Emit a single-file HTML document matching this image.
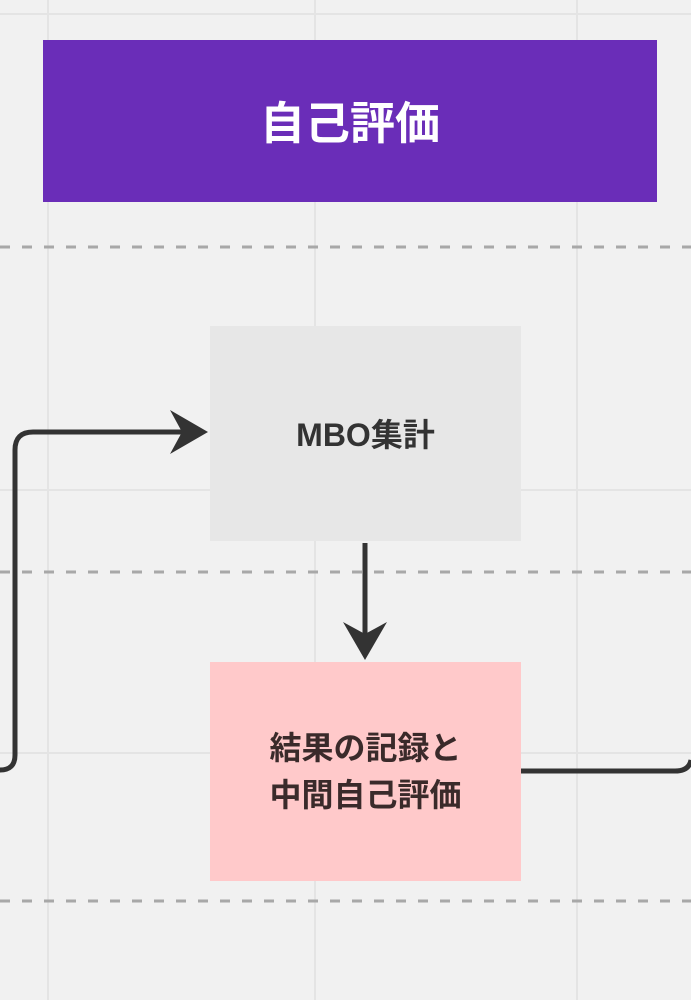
<!DOCTYPE html>
<html><head><meta charset="utf-8"><style>
body{margin:0;width:691px;height:1000px;background:#f1f1f1;position:relative;overflow:hidden;font-family:"Liberation Sans","Noto Sans CJK JP",sans-serif;}
.b{position:absolute;display:flex;align-items:center;justify-content:center;text-align:center;font-weight:bold;}
</style></head><body>
<svg width="691" height="1000" style="position:absolute;left:0;top:0">
<g stroke="#e4e4e4" stroke-width="2">
<line x1="48" y1="0" x2="48" y2="1000"/><line x1="315" y1="0" x2="315" y2="1000"/><line x1="577" y1="0" x2="577" y2="1000"/>
<line x1="0" y1="490" x2="691" y2="490"/><line x1="0" y1="753" x2="691" y2="753"/><line x1="0" y1="14" x2="691" y2="14"/>
</g>
<g stroke="#a8a8a8" stroke-width="3" stroke-dasharray="10 12">
<line x1="0" y1="247" x2="691" y2="247"/><line x1="0" y1="572" x2="691" y2="572"/><line x1="0" y1="901" x2="691" y2="901"/>
</g>
</svg>
<div class="b" style="left:43px;top:40px;width:614px;height:162px;background:#6a2db8;color:#fff;font-size:45px;padding-bottom:4px;box-sizing:border-box;">自己評価</div>
<div class="b" style="left:210px;top:326px;width:311px;height:215px;background:#e7e7e7;color:#333;font-size:32px;padding-bottom:2px;box-sizing:border-box;">MBO集計</div>
<div class="b" style="left:210px;top:662px;width:311px;height:219px;background:#ffc9ca;color:#3a2a2a;font-size:32px;line-height:47px;">結果の記録と<br>中間自己評価</div>
<svg width="691" height="1000" style="position:absolute;left:0;top:0">
<g fill="none" stroke="#333" stroke-width="5" stroke-linejoin="round">
<path d="M0 770 Q15 770 15 755 L15 450 Q15 432 33 432 L195 432"/>
<path d="M365 543 L365 645"/>
<path d="M521 771 L675 771 Q689 771 691 760"/>
</g>
<path d="M170 410 L208 432 L170 454 L182 432 Z" fill="#333"/>
<path d="M343 622 L365 660 L387 622 L365 634 Z" fill="#333"/>
</svg>
</body></html>
